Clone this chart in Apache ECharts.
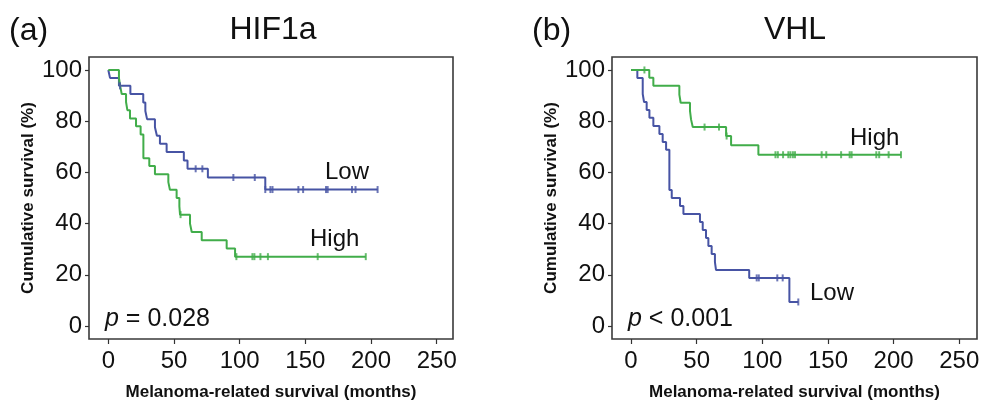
<!DOCTYPE html>
<html lang="en">
<head>
    <meta charset="UTF-8">
    <script src="https://cdn.jsdelivr.net/npm/echarts@6.0.0/dist/echarts.min.js"></script>
    <title>HIF1a / VHL survival</title>
</head>
<body style="margin:0;background:#fff;">
    <div id="chart" style="width: 984px;height:406px;"></div>
    <script>
        // ticks
        var xTicks = [0, 50, 100, 150, 200, 250];
        var yTicks = [0, 20, 40, 60, 80, 100];

        // (a) HIF1a - [month, survival %], step points
        var hifLow = [[0, 100], [1.3, 96.9], [8.1, 93.8], [16.8, 90.6], [26.6, 87.3], [28.2, 84.0], [29.5, 80.8],
            [35.5, 77.6], [37.0, 74.3], [39.3, 71.2], [44.4, 68.0], [57.5, 64.6], [60.3, 61.4], [75.8, 58.0],
            [119.5, 53.3], [205, 53.3]];
        var hifLowCensor = [[8.9, 93.8], [66.5, 61.4], [71.6, 61.4], [95.2, 58.0], [111.5, 58.0], [119.5, 53.3],
            [123.4, 53.3], [125, 53.3], [144.7, 53.3], [148.3, 53.3], [165.7, 53.3], [167, 53.3], [185.5, 53.3],
            [188.2, 53.3], [205, 53.3]];
        var hifHigh = [[0, 100], [8.1, 96.9], [9.0, 93.8], [10.2, 90.6], [13.5, 87.5], [14.5, 84.3], [16.5, 81.0],
            [21.1, 78.0], [24.6, 74.8], [26.7, 65.5], [31.2, 62.5], [35.5, 59.3], [45.7, 56.2], [46.9, 53.2],
            [52.0, 50.0], [54.1, 46.7], [54.6, 43.5], [62.2, 40.0], [63.5, 36.7], [71.1, 33.5], [90.1, 30.3],
            [96.5, 27.1], [196, 27.1]];
        var hifHighCensor = [[55.0, 43.5], [97.5, 27.1], [109.7, 27.1], [111.2, 27.1], [115.8, 27.1], [121.5, 27.1],
            [159.4, 27.1], [196, 27.1]];

        // (b) VHL
        var vhlLow = [[0, 100], [4.8, 96.9], [8.9, 90.6], [9.9, 87.5], [11.9, 84.4], [14.0, 81.3], [17.0, 78.1],
            [21.6, 75.0], [24.1, 71.9], [26.7, 68.8], [29.2, 53.1], [31.0, 50.0], [37.3, 46.9], [39.9, 43.8],
            [52.5, 40.6], [54.6, 37.5], [57.1, 34.4], [58.9, 31.3], [61.4, 28.1], [63.9, 25.0], [64.7, 21.9],
            [90.0, 18.8], [120.6, 9.4], [127.4, 9.4]];
        var vhlLowCensor = [[95.7, 18.8], [97.3, 18.8], [111.4, 18.8], [115.5, 18.8], [127.4, 9.4]];
        var vhlHigh = [[0, 100], [13.9, 97.0], [17.0, 93.8], [36.8, 90.4], [37.8, 87.2], [44.9, 84.0], [45.7, 80.7],
            [47.0, 77.7], [72.4, 74.2], [76.2, 70.6], [97.0, 66.9], [205.6, 66.9]];
        var vhlHighCensor = [[10.2, 100], [56.0, 77.7], [67.0, 77.7], [72.8, 74.2], [110.0, 66.9], [111.8, 66.9],
            [115.8, 66.9], [119.8, 66.9], [121.4, 66.9], [123.3, 66.9], [124.9, 66.9], [145.2, 66.9], [148.7, 66.9],
            [160.0, 66.9], [166.5, 66.9], [168.0, 66.9], [186.8, 66.9], [189.0, 66.9], [196.2, 66.9], [205.6, 66.9]];

        var blue = '#4754a4';
        var green = '#41ad4a';
        var font = 'Liberation Sans, Arial, sans-serif';

        var chart = echarts.init(document.getElementById('chart'));

        function xAxisFor(idx, min, max) {
            return {
                type: 'value', gridIndex: idx, min: min, max: max, position: 'bottom',
                axisLine: {show: false, onZero: false},
                splitLine: {show: false},
                axisTick: {show: true, inside: false, length: 5, customValues: xTicks,
                    lineStyle: {color: '#333', width: 1.2}},
                axisLabel: {customValues: xTicks, margin: 10, fontSize: 24, color: '#111', fontFamily: font},
                name: 'Melanoma-related survival (months)',
                nameLocation: 'middle', nameGap: 45,
                nameTextStyle: {fontSize: 17, fontWeight: 'bold', color: '#111', fontFamily: font}
            };
        }

        function yAxisFor(idx) {
            return {
                type: 'value', gridIndex: idx, min: -5.06, max: 105.06, position: 'left',
                axisLine: {show: false, onZero: false},
                splitLine: {show: false},
                axisTick: {show: true, inside: false, length: 4, customValues: yTicks,
                    lineStyle: {color: '#333', width: 1.2}},
                axisLabel: {customValues: yTicks, margin: 7, fontSize: 24, color: '#111', fontFamily: font},
                name: 'Cumulative survival (%)',
                nameLocation: 'middle', nameGap: 52,
                nameTextStyle: {fontSize: 17, fontWeight: 'bold', color: '#111', fontFamily: font}
            };
        }

        function curve(data, color, idx) {
            return {
                type: 'line', step: 'end', data: data, xAxisIndex: idx, yAxisIndex: idx,
                showSymbol: false, lineStyle: {color: color, width: 2}, z: 3
            };
        }

        function censor(data, color, idx) {
            return {
                type: 'scatter', data: data, xAxisIndex: idx, yAxisIndex: idx,
                symbol: 'rect', symbolSize: [2, 7], itemStyle: {color: color}, z: 4
            };
        }

        function label(x, y, text, size) {
            return {
                type: 'text', x: x, y: y,
                style: {text: text, fontSize: size, fontFamily: font, fill: '#111', verticalAlign: 'middle',
                    rich: {i: {fontStyle: 'italic', fontSize: size, fontFamily: font, fill: '#111'}}}
            };
        }

        function centered(x, y, text, size) {
            var g = label(x, y, text, size);
            g.style.align = 'center';
            return g;
        }

        var option = {
            animation: false,
            backgroundColor: '#fff',
            grid: [
                {left: 89, top: 57, width: 364, height: 283, show: true, borderColor: '#3a3a3a', borderWidth: 1.6},
                {left: 612, top: 57, width: 365, height: 283, show: true, borderColor: '#3a3a3a', borderWidth: 1.6}
            ],
            xAxis: [xAxisFor(0, -14.7, 262.4), xAxisFor(1, -14.5, 263.5)],
            yAxis: [yAxisFor(0), yAxisFor(1)],
            series: [
                curve(hifLow, blue, 0), curve(hifHigh, green, 0),
                censor(hifLowCensor, blue, 0), censor(hifHighCensor, green, 0),
                curve(vhlLow, blue, 1), curve(vhlHigh, green, 1),
                censor(vhlLowCensor, blue, 1), censor(vhlHighCensor, green, 1)
            ],
            graphic: [
                label(9, 31, '(a)', 32),
                centered(273, 30, 'HIF1a', 32),
                label(532, 31, '(b)', 32),
                centered(795, 30, 'VHL', 32),
                label(325, 172, 'Low', 24),
                label(310, 239, 'High', 24),
                label(850, 138, 'High', 24),
                label(810, 293, 'Low', 24),
                label(105, 319, '{i|p} = 0.028', 25),
                label(628, 319, '{i|p} < 0.001', 25)
            ]
        };

        chart.setOption(option);
    </script>
</body>
</html>
